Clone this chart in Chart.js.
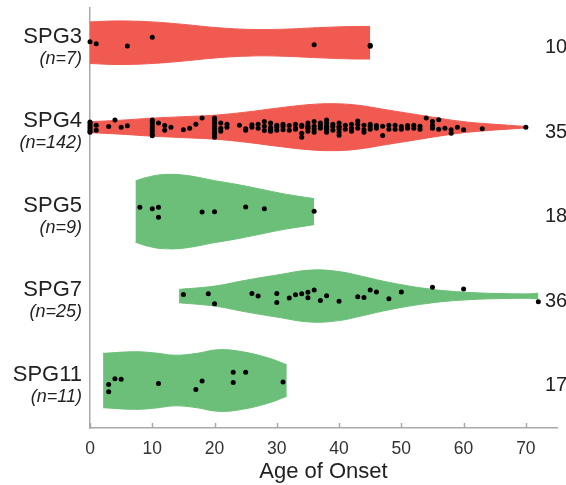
<!DOCTYPE html>
<html><head><meta charset="utf-8">
<script src="https://cdn.jsdelivr.net/npm/chart.js@4"></script>
<style>html,body{margin:0;padding:0;background:#fff}</style>
</head><body>
<canvas id="c" width="566" height="485"></canvas>
<script>
// ---------- DATA ----------
const groups = ['SPG3', 'SPG4', 'SPG5', 'SPG7', 'SPG11'];
const groupN = ['(n=7)', '(n=142)', '(n=9)', '(n=25)', '(n=11)'];
const rightValues = ['10', '35', '18', '36', '17'];
const xTicks = [0, 10, 20, 30, 40, 50, 60, 70];

// individual ages of onset; jitter in hundredths of a category band
const spg3Ages = [0, 1, 6, 10, 36, 45, 45];
const spg3Jitter = [-1.2, 1.2, 4, -6.5, 2.4, 3.1, 4.3];

const spg4Ages = [0,0,0,0,0,1,3,4,5,6, 10,10,10,10,10,10, 11,12,13, 15,16,17,18, 20,20,20,20,20,20, 21,21,22, 25,26,27,28,28, 29,29,29, 30,31,31,32,33,34, 34,34, 35,35,35,35, 36,37,38, 38,38,38,38, 39, 40,40,40,40,40, 42,43,44,45,46,47, 49,49, 50,51,52, 54,55,55,56,57,58,58,59,60,63,70,
  24,25,26,27,28,29,30,30,31,32, 33,33,34,35,36,36,36,37,37,38, 38,39,39,40,41,41,42,42,43,44, 45,45,46,47,48,48,50,51,52,53, 53,55,56,20,20,10,10,0,0,1, 12,21,22,44,43];
const spg4Jitter = [-4.8,-2.4,0,2.4,4.8,3.6,-0.8,-8.4,0,-1.6, -7.2,-4.2,-1.2,1.8,4.8,8.4, -4.8,-2,0, 3,1.2,-3.6,-10.8, -8.4,-4.8,-1.2,2.4,6,12, -4.8,1.2,0, 2,0,-3.6,4,-6.8, -4.8,0,4.8, 0,-3.6,3.2,-2,1.2,-0.8, 7.2,12, 1.2,-4.8,0,4.8, -6.8,-2,1.2, -4.8,-1.2,2.4,6, -0.8, -4.8,-1.2,2.4,6,9.6, 1.2,-3.6,3.2,-0.8,-2,10, -2.4,2.4, -0.8,-2,1.2, -10.8,-6.8,1.2,-8.8,1.2,3.2,7.2,0,3.2,2,0,
  -2.4,3.6,-3,1.2,-1.2,2.4,-2.4,3.6,-1.2,3.6, -3.6,2.4,-2.4,-1.8,-1.2,2.4,6,1.2,-4.8,0, -8.4,3.6,-3.6,0,-2.4,2.4,-3.6,4.8,1.2,-2.4, 2.4,-3.6,1.2,-1.2,-2.4,2.4,2.4,1.2,-2.4,-1.2, 2.4,-2.4,2.4,8.4,-10.8,10.2,-8.4,6,-6,-2.4, 3.6,4.8,-3.6,6,-7.2];

const spg5Ages = [8, 10, 11, 11, 18, 20, 25, 28, 36];
const spg5Jitter = [-5.2, -3.5, -5.2, 6.8, 0.5, 0.1, -5.5, -3.5, -0.4];

const spg7Ages = [15,19,20,26,27,30,30,32,33,34,35,35,36,37,38,40,43,44,45,46,48,50,55,60,72];
const spg7Jitter = [-2,-2.8,9.2,-3.2,0,-3.2,7.6,2.4,-1.6,-2.8,-4.4,2,-7.2,5.2,-0.4,6,0.8,1.6,-7.2,-4.8,3.2,-4.8,-10.4,-8.4,6.8];

const spg11Ages = [3, 3, 4, 5, 11, 17, 18, 23, 23, 25, 31];
const spg11Jitter = [4.6, 13.4, -2.2, -1.4, 3.4, 10.6, 0.6, -9.8, 2.2, -9.8, 1.8];

// violin density outlines: ages and half-widths (hundredths of a band)
const spg3DensityAges = [0, 4.5, 10, 15, 20.5, 26, 31, 36.5, 42, 45];
const spg3HalfWidth = [24.6, 25.8, 24.6, 21.7, 17.8, 15.7, 16, 17.8, 19.2, 19.3];
const spg4DensityAges = [0, 5, 10, 15, 20, 25, 30, 35, 39, 43, 47, 52, 56, 60, 64, 67, 70];
const spg4HalfWidth = [6.5, 8.3, 10.7, 12.4, 14.2, 17.8, 22.5, 26.6, 27.8, 26, 21.3, 15.4, 10.7, 6.5, 3.9, 2.4, 0.9];
const spg5DensityAges = [7.3, 9, 11.6, 15.3, 20, 23.3, 27, 31.4, 36];
const spg5HalfWidth = [36.3, 40.3, 43.8, 43, 36.7, 32.6, 27.2, 20.7, 15.4];
const spg7DensityAges = [14.3, 20, 25, 30, 35.5, 40, 43.5, 47, 50.5, 54, 57, 62, 66, 70, 72];
const spg7HalfWidth = [7.9, 11.8, 18.7, 24.9, 30.8, 29, 23.7, 17.8, 12.8, 8.9, 6.3, 3.9, 3, 2.6, 3.3];
const spg11DensityAges = [2.1, 7.2, 10.5, 13.6, 17, 20.6, 24.3, 28.7, 31.6];
const spg11HalfWidth = [32.2, 34.1, 32.6, 30, 32, 36.5, 34.3, 26.6, 18.6];

// ---------- STYLE ----------
const RED = '#F05A51';
const GREEN = '#6CBF78';
const groupColors = [RED, RED, GREEN, GREEN, GREEN];
const AXIS = '#a9a9a9';
const FONT = '"Liberation Sans", Arial, Helvetica, sans-serif';

const pointsByGroup = [
  [spg3Ages, spg3Jitter], [spg4Ages, spg4Jitter], [spg5Ages, spg5Jitter],
  [spg7Ages, spg7Jitter], [spg11Ages, spg11Jitter]
];
const densityByGroup = [
  [spg3DensityAges, spg3HalfWidth], [spg4DensityAges, spg4HalfWidth],
  [spg5DensityAges, spg5HalfWidth], [spg7DensityAges, spg7HalfWidth],
  [spg11DensityAges, spg11HalfWidth]
];

const datasets = [];
densityByGroup.forEach(([ages, hw], i) => {
  const col = groupColors[i];
  datasets.push({
    type: 'line', order: 2,
    data: ages.map((a, k) => ({x: a, y: i - hw[k] / 100})),
    fill: '+1', backgroundColor: col, borderColor: col, borderWidth: 1,
    pointRadius: 0, tension: 0.4
  });
  datasets.push({
    type: 'line', order: 2,
    data: ages.map((a, k) => ({x: a, y: i + hw[k] / 100})),
    fill: false, backgroundColor: col, borderColor: col, borderWidth: 1,
    pointRadius: 0, tension: 0.4
  });
});
const pts = [];
pointsByGroup.forEach(([ages, jit], i) => {
  ages.forEach((a, k) => pts.push({x: a, y: i + jit[k] / 100}));
});
datasets.push({
  type: 'scatter', order: 0, data: pts, clip: false,
  pointRadius: 2.5, backgroundColor: '#000', borderWidth: 0, showLine: false
});

const overlay = {
  id: 'overlay',
  afterDraw(chart) {
    const {ctx, chartArea} = chart;
    const y = chart.scales.y, x = chart.scales.x;
    ctx.save();
    // inner tick marks
    ctx.strokeStyle = AXIS; ctx.lineWidth = 1.5;
    xTicks.forEach(v => {
      const px = Math.round(x.getPixelForValue(v)) + 0.5;
      ctx.beginPath(); ctx.moveTo(px, x.top); ctx.lineTo(px, x.top - 5); ctx.stroke();
    });
    groups.forEach((g, i) => {
      const py = y.getPixelForValue(i);
      ctx.fillStyle = '#222';
      ctx.textAlign = 'right'; ctx.textBaseline = 'alphabetic';
      ctx.font = '22px ' + FONT;
      ctx.fillText(g, chartArea.left - 8, py);
      ctx.font = 'italic 18px ' + FONT;
      ctx.fillText(groupN[i], chartArea.left - 8, py + 21);
      ctx.textAlign = 'left'; ctx.textBaseline = 'middle';
      ctx.font = '20px ' + FONT;
      ctx.fillText(rightValues[i], chartArea.right - 12, py + 5);
    });
    ctx.restore();
  }
};

Chart.defaults.font.family = FONT;
new Chart(document.getElementById('c'), {
  type: 'line',
  data: {datasets},
  options: {
    responsive: false, animation: false,
    layout: {padding: {top: 8, right: 9, left: 0, bottom: 0}},
    plugins: {legend: {display: false}, tooltip: {enabled: false}},
    scales: {
      x: {
        type: 'linear', min: 0, max: 75,
        afterBuildTicks: s => { s.ticks = xTicks.map(v => ({value: v})); },
        afterFit: s => { s.height = 57; },
        grid: {display: false, drawTicks: false},
        border: {display: true, color: AXIS, width: 1.5},
        ticks: {color: '#333', font: {size: 17.5}, padding: 11},
        title: {display: true, text: 'Age of Onset', color: '#222', font: {size: 22}, padding: {top: 0, bottom: 0}}
      },
      y: {
        type: 'linear', reverse: true, min: -0.411, max: 4.562,
        afterFit: s => { s.width = 90; },
        grid: {display: false, drawTicks: false},
        border: {display: true, color: AXIS, width: 1.5},
        ticks: {display: false}
      }
    }
  },
  plugins: [overlay]
});
</script>
</body></html>
